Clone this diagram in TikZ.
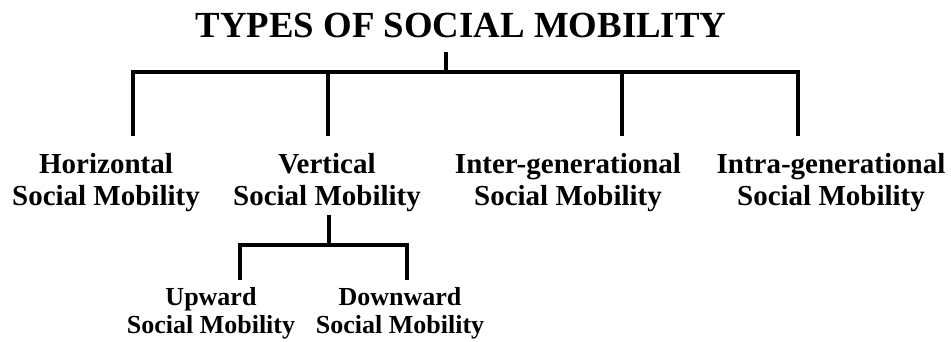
\documentclass[tikz,border=0pt]{standalone}
\usepackage{fontspec}
\setmainfont{Liberation Serif}
\begin{document}
\begin{tikzpicture}[x=1pt,y=-1pt,
  conn/.style={line width=3.6pt, line join=miter, line cap=butt},
  subconn/.style={line width=3.2pt, line join=miter, line cap=butt},
  heading/.style={font=\bfseries\fontsize{36.8}{40}\selectfont, inner sep=0pt, anchor=base},
  kind/.style={font=\bfseries\fontsize{29}{32}\selectfont, align=center, inner sep=0pt, anchor=base},
  subkind/.style={font=\bfseries\fontsize{26}{28}\selectfont, align=center, inner sep=0pt, anchor=base}]
\useasboundingbox (0,0) rectangle (951,341);

% headings (base anchor sits on the last line)
\node[heading] (root) at (461,37) {TYPES OF SOCIAL MOBILITY};
\node[kind] (hor)   at (106,205) {Horizontal\\Social Mobility};
\node[kind] (ver)   at (327,205) {Vertical\\Social Mobility};
\node[kind] (inter) at (568,205) {Inter-generational\\Social Mobility};
\node[kind] (intra) at (831,205) {Intra-generational\\Social Mobility};
\node[subkind] (up)   at (211,333) {Upward\\Social Mobility};
\node[subkind] (down) at (400,333) {Downward\\Social Mobility};

% main tree junctions
\coordinate (rootstem) at (446,52);
\coordinate (hub) at (446,72);
\coordinate (horTop) at (133,72);
\coordinate (verTop) at (328,72);
\coordinate (interTop) at (622,72);
\coordinate (intraTop) at (798,72);
\coordinate (horEnd) at (133,136);
\coordinate (verEnd) at (328,136);
\coordinate (interEnd) at (622,136);
\coordinate (intraEnd) at (798,136);

\draw[conn] (rootstem) -- (hub);
\draw[conn] (horEnd) -- (horTop) -- (intraTop) -- (intraEnd);
\draw[conn] (verTop) -- (verEnd);
\draw[conn] (interTop) -- (interEnd);

% vertical mobility sub-tree
\coordinate (verStem) at (329,215);
\coordinate (subHub) at (329,245);
\coordinate (upTop) at (240,245);
\coordinate (downTop) at (407,245);
\coordinate (upEnd) at (240,280);
\coordinate (downEnd) at (407,280);

\draw[subconn] (verStem) -- (subHub);
\draw[subconn] (upEnd) -- (upTop) -- (downTop) -- (downEnd);
\end{tikzpicture}
\end{document}
